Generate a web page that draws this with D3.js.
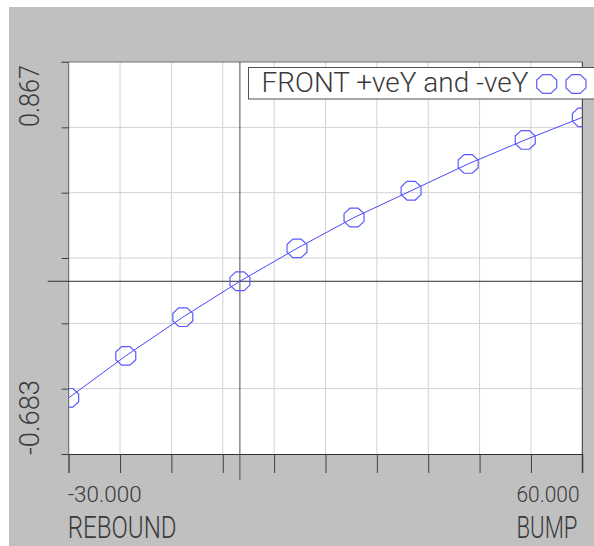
<!DOCTYPE html>
<html>
<head>
<meta charset="utf-8">
<script src="https://cdn.jsdelivr.net/npm/d3@7"></script>
<style>
  body { margin: 0; background: #ffffff; }
  text { font-family: Roboto, "DejaVu Sans", sans-serif; font-weight: 300; fill: #3a3a3a; }
</style>
</head>
<body>
<div id="chart"></div>
<script>
// bump travel vs camber, front wheels
const travel = [-30, -20, -10, 0, 10, 20, 30, 40, 50, 60];
const camber = [-0.461, -0.295, -0.142, 0, 0.130, 0.252, 0.358, 0.464, 0.559, 0.648];
const xTicks = [-30, -21, -12, -3, 6, 15, 24, 33, 42, 51, 60];
const yTicks = [-0.683, -0.42467, -0.16633, 0.092, 0.35033, 0.60867, 0.867];
const xEndLabels = ["-30.000", "60.000"];
const xTitles = ["REBOUND", "BUMP"];
const yEndLabels = ["-0.683", "0.867"];
const seriesName = "FRONT +veY and -veY";

const width = 594, height = 546;
const plotL = 68.7, plotR = 582.3, plotT = 62, plotB = 454;

const svg = d3.select("#chart").append("svg")
    .attr("width", width)
    .attr("height", height);

svg.append("rect")
    .attr("x", 9).attr("y", 7)
    .attr("width", width - 9).attr("height", height - 7)
    .attr("fill", "#c0c0c0");

const x = d3.scaleLinear().domain([-30, 60]).range([plotL, plotR]);
const y = d3.scaleLinear().domain([-0.683, 0.867]).range([plotB, plotT]);

svg.append("rect")
    .attr("x", plotL).attr("y", plotT)
    .attr("width", plotR - plotL).attr("height", plotB - plotT)
    .attr("fill", "#ffffff");

// grid
svg.append("g").selectAll("line")
    .data(xTicks.slice(1, -1))
    .enter().append("line")
    .attr("x1", d => x(d)).attr("x2", d => x(d))
    .attr("y1", plotT).attr("y2", plotB)
    .attr("stroke", "#d2d2d2");

svg.append("g").selectAll("line")
    .data(yTicks.slice(1, -1))
    .enter().append("line")
    .attr("x1", plotL).attr("x2", plotR)
    .attr("y1", d => y(d)).attr("y2", d => y(d))
    .attr("stroke", "#d2d2d2");

// axes with outward ticks
const xAxis = svg.append("g")
    .attr("transform", `translate(0,${plotB})`)
    .call(d3.axisBottom(x).tickValues(xTicks).tickSize(19).tickFormat(""));
xAxis.select(".domain").attr("stroke", "#303030").attr("d", `M${plotL - 7},0.5H${plotR}`);
xAxis.selectAll(".tick line").attr("stroke", "#404040");

const yAxis = svg.append("g")
    .attr("transform", `translate(${plotL},0)`)
    .call(d3.axisLeft(y).tickValues(yTicks).tickSize(7).tickFormat(""));
yAxis.select(".domain").attr("stroke", "#606060").attr("d", `M0,${plotT}V${plotB + 19}`);
yAxis.selectAll(".tick line").attr("stroke", "#404040");

// top and right frame
svg.append("line")
    .attr("x1", plotL - 7).attr("x2", plotR)
    .attr("y1", plotT).attr("y2", plotT)
    .attr("stroke", "#707070");
svg.append("line")
    .attr("x1", plotR).attr("x2", plotR)
    .attr("y1", plotT).attr("y2", plotB + 19)
    .attr("stroke", "#303030");

// zero lines
svg.append("line")
    .attr("x1", x(0)).attr("x2", x(0))
    .attr("y1", plotT).attr("y2", plotB + 26)
    .attr("stroke", "#505050");
svg.append("line")
    .attr("x1", plotL - 21).attr("x2", plotR)
    .attr("y1", y(0)).attr("y2", y(0))
    .attr("stroke", "#303030");

// series
svg.append("clipPath").attr("id", "plot-clip")
    .append("rect")
    .attr("x", plotL).attr("y", plotT)
    .attr("width", plotR - plotL).attr("height", plotB - plotT);

const points = travel.map((t, i) => ({ t: t, c: camber[i] }));
const plot = svg.append("g").attr("clip-path", "url(#plot-clip)");

plot.append("path")
    .datum(points)
    .attr("fill", "none")
    .attr("stroke", "#4848ff")
    .attr("stroke-width", 1)
    .attr("d", d3.line().x(d => x(d.t)).y(d => y(d.c)));

// octagon marker
const octagon = d3.line()(d3.range(8).map(k => {
    const a = Math.PI / 8 + k * Math.PI / 4;
    return [10.8 * Math.cos(a), 10.1 * Math.sin(a)];
})) + "Z";

plot.selectAll(".marker")
    .data(points)
    .enter().append("path")
    .attr("class", "marker")
    .attr("transform", d => `translate(${x(d.t)},${y(d.c)})`)
    .attr("d", octagon)
    .attr("fill", "none")
    .attr("stroke", "#5a5aff")
    .attr("stroke-width", 1.2);

// squeeze a text to a given length (the plotter font is tall and narrow)
function fitText(str, px, py, size, len, angle) {
    const t = svg.append("text")
        .attr("font-size", size)
        .text(str);
    const natural = t.node().getComputedTextLength();
    t.attr("transform", `translate(${px},${py}) rotate(${angle || 0}) scale(${len / natural},1)`);
    return t;
}

// legend
svg.append("rect")
    .attr("x", 248.5).attr("y", 67.5)
    .attr("width", 360).attr("height", 31.5)
    .attr("fill", "#ffffff")
    .attr("stroke", "#505050");

fitText(seriesName, 261.5, 92, 27, 267);

svg.selectAll(".legend-marker")
    .data([546.7, 576])
    .enter().append("path")
    .attr("class", "legend-marker")
    .attr("transform", d => `translate(${d},84)`)
    .attr("d", octagon)
    .attr("fill", "none")
    .attr("stroke", "#5a5aff")
    .attr("stroke-width", 1.2);

// axis end labels
fitText(xEndLabels[0], plotL - 1, 502, 22, 74);
fitText(xEndLabels[1], 516.5, 502, 22, 63);
fitText(xTitles[0], plotL - 1, 538, 32, 109);
fitText(xTitles[1], 516.5, 538, 32, 61);
fitText(yEndLabels[0], 38.5, 455, 28, 75, -90);
fitText(yEndLabels[1], 38.5, 127, 28, 62, -90);
</script>
</body>
</html>
